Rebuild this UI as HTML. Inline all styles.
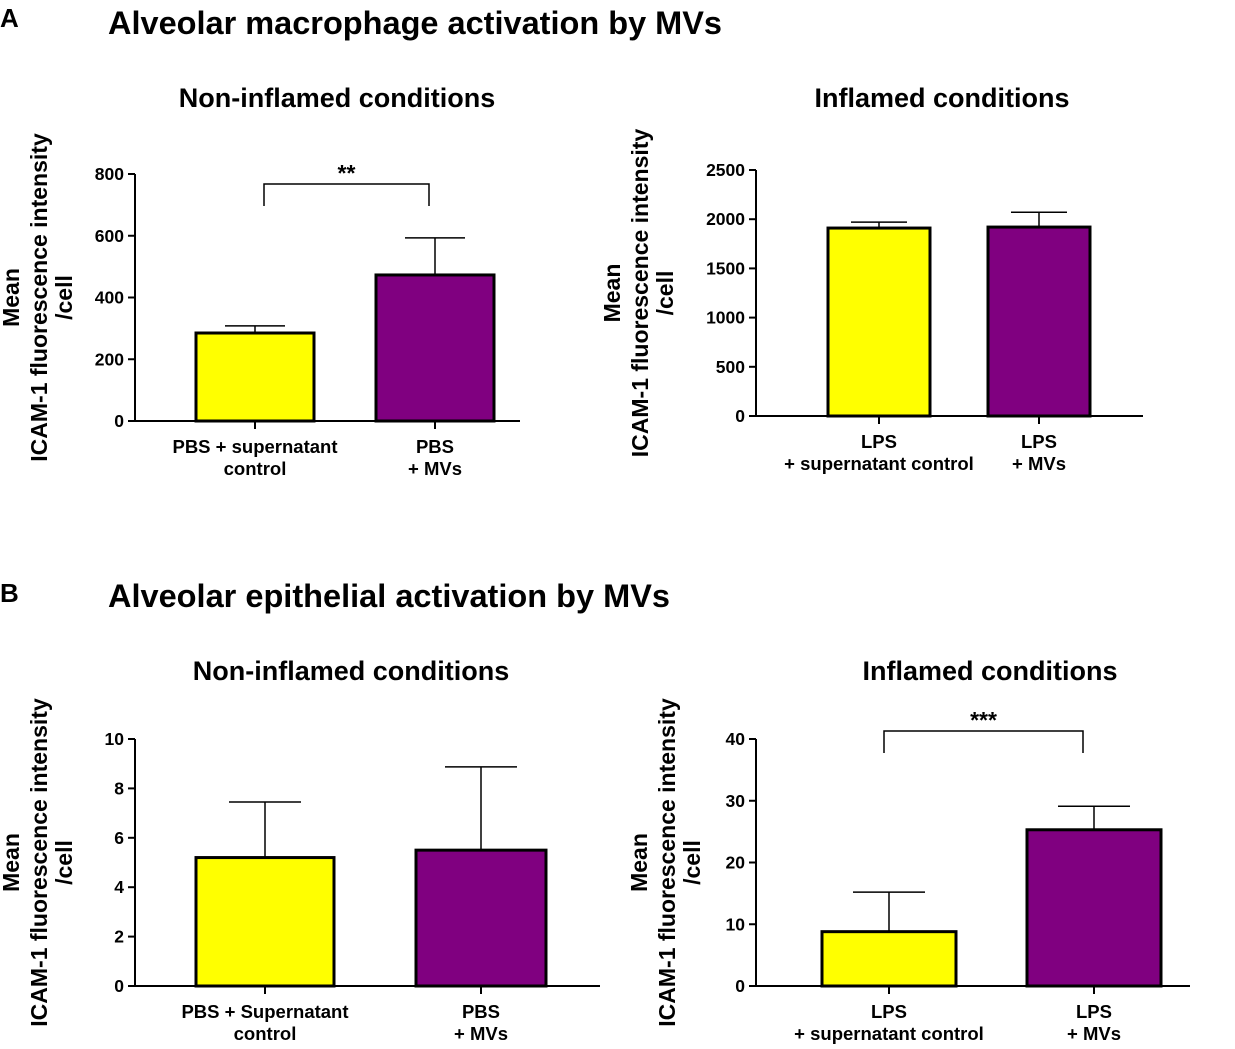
<!DOCTYPE html>
<html><head><meta charset="utf-8"><style>
body{margin:0;background:#fff;}
svg{display:block;font-family:"Liberation Sans",Arial,sans-serif;font-weight:bold;}
</style></head><body>
<svg id="c" width="1235" height="1049" viewBox="0 0 1235 1049">
<text x="0" y="27" font-size="26">A</text>
<text x="108" y="34" font-size="32" textLength="614" lengthAdjust="spacingAndGlyphs">Alveolar macrophage activation by MVs</text>
<text x="0" y="602" font-size="26">B</text>
<text x="108" y="607" font-size="32" textLength="562" lengthAdjust="spacingAndGlyphs">Alveolar epithelial activation by MVs</text>
</svg>
<script>
const aLeftCats=[["PBS + supernatant","control"],["PBS","+ MVs"]];
const aLeftVals=[285,473];
const aLeftErr=[308,593];
const aLeftTicks=[0,200,400,600,800];
const aRightCats=[["LPS","+ supernatant control"],["LPS","+ MVs"]];
const aRightVals=[1910,1920];
const aRightErr=[1970,2070];
const aRightTicks=[0,500,1000,1500,2000,2500];
const bLeftCats=[["PBS + Supernatant","control"],["PBS","+ MVs"]];
const bLeftVals=[5.2,5.5];
const bLeftErr=[7.45,8.87];
const bLeftTicks=[0,2,4,6,8,10];
const bRightCats=[["LPS","+ supernatant control"],["LPS","+ MVs"]];
const bRightVals=[8.8,25.3];
const bRightErr=[15.2,29.1];
const bRightTicks=[0,10,20,30,40];
const NS="http://www.w3.org/2000/svg";
const svg=document.getElementById('c');
function mk(t,a,p){const e=document.createElementNS(NS,t);for(const k in a)e.setAttribute(k,a[k]);(p||svg).appendChild(e);return e;}
function panel(o){
  const g=mk('g',{});
  
  
  const max=o.ticks[o.ticks.length-1];
  const y=v=>o.y0-(o.y0-o.y1)*v/max;
  const t=mk('text',{x:o.tx,y:o.ty,'font-size':27,'text-anchor':'middle'},g);t.textContent=o.title;
  
  
  const cx=o.titleX, cy=(o.y0+o.y1)/2;
  [["Mean",0],["ICAM-1 fluorescence intensity",28],["/cell",53]].forEach(([s,dx])=>{
    const e=mk('text',{x:cx+dx,y:cy,'font-size':23,'text-anchor':'middle',transform:`rotate(-90 ${cx+dx} ${cy})`},g);
    e.textContent=s;
    
    
  });
  const ax=mk('path',{d:`M${o.ax} ${o.y1}V${o.y0}H${o.axEnd}`,stroke:'#000','stroke-width':2,fill:'none'},g);
  
  
  o.ticks.forEach(v=>{
    mk('line',{x1:o.ax-7,x2:o.ax,y1:y(v),y2:y(v),stroke:'#000','stroke-width':2},g);
    const e=mk('text',{x:o.ax-11,y:y(v)+6,'font-size':17.5,'text-anchor':'end'},g);e.textContent=v;
    
    
  });
  o.vals.forEach((v,i)=>{
    const [l,r]=o.bx[i], m=(l+r)/2;
    const eb=mk('path',{d:`M${m} ${y(v)}V${y(o.err[i])}M${m-o.cap} ${y(o.err[i])}H${m+o.cap}`,stroke:'#000','stroke-width':1.5,fill:'none'},g);
    
    
    const b=mk('rect',{x:l,y:y(v),width:r-l,height:o.y0-y(v),fill:i?'#800080':'#ffff00',stroke:'#000','stroke-width':3},g);
    
    
    mk('line',{x1:m,x2:m,y1:o.y0,y2:o.y0+8,stroke:'#000','stroke-width':2},g);
    o.cats[i].forEach((s,j)=>{
      const e=mk('text',{x:m,y:o.y0+32+j*22,'font-size':18.5,'text-anchor':'middle'},g);e.textContent=s;
      
      
    });
  });
  if(o.sig){
    const [l,r,by,s]=o.sig;
    const p=mk('path',{d:`M${l} ${by+22}V${by}H${r}V${by+22}`,stroke:'#000','stroke-width':1.5,fill:'none'},g);
    
    
    const e=mk('text',{x:(l+r)/2,y:by-3,'font-size':23,'text-anchor':'middle'},g);e.textContent=s;
    
    
  }
}
panel({name:'chart-a-non-inflamed',title:'Non-inflamed conditions',tx:337,ty:107,titleX:19,ax:135,axEnd:520,y0:421,y1:174,ticks:aLeftTicks,vals:aLeftVals,err:aLeftErr,cats:aLeftCats,bx:[[196,314],[376,494]],cap:30,sig:[264,429,184,'**']});
panel({name:'chart-a-inflamed',title:'Inflamed conditions',tx:942,ty:107,titleX:620,ax:756,axEnd:1143,y0:416,y1:170,ticks:aRightTicks,vals:aRightVals,err:aRightErr,cats:aRightCats,bx:[[828,930],[988,1090]],cap:28});
panel({name:'chart-b-non-inflamed',title:'Non-inflamed conditions',tx:351,ty:680,titleX:19,ax:135,axEnd:600,y0:986,y1:739,ticks:bLeftTicks,vals:bLeftVals,err:bLeftErr,cats:bLeftCats,bx:[[196,334],[416,546]],cap:36});
panel({name:'chart-b-inflamed',title:'Inflamed conditions',tx:990,ty:680,titleX:647,ax:756,axEnd:1190,y0:986,y1:739,ticks:bRightTicks,vals:bRightVals,err:bRightErr,cats:bRightCats,bx:[[822,956],[1027,1161]],cap:36,sig:[884,1083,731,'***']});
</script>
</body></html>
